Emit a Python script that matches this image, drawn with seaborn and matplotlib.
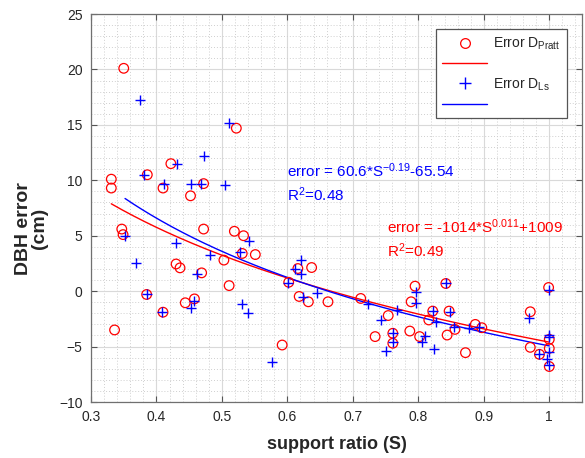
import numpy as np
import matplotlib
matplotlib.use("Agg")
import matplotlib.pyplot as plt
import seaborn as sns
from matplotlib.lines import Line2D
from matplotlib.ticker import MultipleLocator

# support ratio (S) and DBH error (cm)
pratt_s = [0.350, 0.331, 0.331, 0.386, 0.422, 0.522, 0.410, 0.472, 0.452, 0.347,
           0.349, 0.472, 0.519, 0.533, 0.531, 0.551, 0.503, 0.430, 0.436, 0.469,
           0.511, 0.385, 0.444, 0.458, 0.410, 0.336, 0.592, 0.602, 0.616, 0.637,
           0.618, 0.632, 0.662, 0.712, 0.754, 0.734, 0.761, 0.761, 0.795, 0.789,
           0.787, 0.802, 0.822, 0.816, 0.842, 0.847, 0.844, 0.856, 0.872, 0.887,
           0.897, 0.971, 0.971, 0.985, 0.999, 1.000, 1.000, 1.000]
pratt_err = [20.1, 10.1, 9.3, 10.5, 11.5, 14.7, 9.3, 9.7, 8.6, 5.6,
             5.1, 5.6, 5.4, 5.0, 3.4, 3.3, 2.8, 2.45, 2.1, 1.65,
             0.5, -0.3, -1.05, -0.7, -1.9, -3.5, -4.86, 0.8, 2.04, 2.13,
             -0.48, -0.96, -0.96, -0.66, -2.2, -4.1, -3.8, -4.7, 0.45, -0.96,
             -3.6, -4.1, -1.8, -2.6, 0.69, -1.8, -3.96, -3.45, -5.55, -3.0,
             -3.3, -1.86, -5.07, -5.7, 0.33, -4.35, -5.16, -6.8]

ls_s = [0.375, 0.511, 0.381, 0.432, 0.472, 0.412, 0.453, 0.468, 0.505, 0.352,
        0.430, 0.542, 0.528, 0.482, 0.369, 0.462, 0.385, 0.457, 0.452, 0.409,
        0.530, 0.540, 0.577, 0.601, 0.612, 0.621, 0.621, 0.624, 0.645, 0.723,
        0.743, 0.767, 0.761, 0.761, 0.750, 0.796, 0.796, 0.810, 0.805, 0.822,
        0.827, 0.824, 0.842, 0.848, 0.855, 0.877, 0.893, 0.969, 0.985, 0.999,
        1.000, 1.000, 0.999, 0.997, 0.999]
ls_err = [17.2, 15.2, 10.5, 11.5, 12.2, 9.7, 9.7, 9.7, 9.6, 5.0,
          4.35, 4.5, 3.5, 3.3, 2.5, 1.55, -0.3, -0.9, -1.56, -1.9,
          -1.15, -1.95, -6.37, 0.7, 2.04, 2.8, 1.55, -0.55, -0.13, -1.17,
          -2.6, -1.7, -3.8, -4.6, -5.4, -0.06, -1.1, -4.05, -4.6, -1.8,
          -2.8, -5.2, 0.69, -1.9, -3.2, -3.3, -3.2, -2.4, -5.7, 0.1,
          -3.95, -4.15, -5.5, -6.15, -6.7]

# power-law fits printed on the chart: error = a * S^b + c
pratt_fit = (-1014.0, 0.0112, 1009.4)
ls_fit = (60.6, -0.19, -65.54)

red = "#ff0000"
blue = "#0000ff"

sns.set_style("ticks")
plt.rcParams["font.family"] = ["Liberation Sans", "DejaVu Sans"]
plt.rcParams["mathtext.fontset"] = "custom"
plt.rcParams["mathtext.rm"] = "Liberation Sans"
plt.rcParams["mathtext.it"] = "Liberation Sans:italic"

fig = plt.figure(figsize=(5.85, 4.58), dpi=100)
ax = fig.add_axes([91 / 585, 1 - 402 / 458, 491 / 585, 388 / 458])

s_pratt = np.linspace(min(pratt_s), 1.0, 200)
s_ls = np.linspace(0.352, 1.0, 200)
a, b, c = pratt_fit
sns.lineplot(x=s_pratt, y=a * s_pratt ** b + c, color=red, lw=1, ax=ax)
a, b, c = ls_fit
sns.lineplot(x=s_ls, y=a * s_ls ** b + c, color=blue, lw=1, ax=ax)

sns.scatterplot(x=pratt_s, y=pratt_err, marker="o", s=48, facecolors="none",
                edgecolors=red, linewidths=0.9, ax=ax, zorder=3)
sns.scatterplot(x=ls_s, y=ls_err, marker="+", s=60, color=blue,
                linewidths=1.0, ax=ax, zorder=3)

ax.set_xlim(0.3, 1.05)
ax.set_ylim(-10, 25)
ax.xaxis.set_major_locator(MultipleLocator(0.1))
ax.xaxis.set_minor_locator(MultipleLocator(0.02))
ax.yaxis.set_major_locator(MultipleLocator(5))
ax.yaxis.set_minor_locator(MultipleLocator(1))
ax.set_xticklabels([f"{v:g}" for v in ax.get_xticks()])

ax.grid(which="major", color="#d9d9d9", lw=0.8, ls="-")
ax.grid(which="minor", color="#cfcfcf", lw=0.7, ls=(0, (1, 2)))
ax.set_axisbelow(True)
ax.tick_params(which="major", direction="in", length=4, top=True, right=True,
               color="#555555", labelsize=10, labelcolor="#262626", pad=6)
ax.tick_params(which="minor", length=0)
for sp in ax.spines.values():
    sp.set_color("#707070")
    sp.set_linewidth(0.9)

ax.set_xlabel("support ratio (S)", fontsize=13, fontweight="bold")
ax.set_ylabel("DBH error\n(cm)", fontsize=14, fontweight="bold", linespacing=0.9)
ax.xaxis.set_label_coords(0.5, -0.088)
ax.yaxis.set_label_coords(-0.088, 0.448)

ax.text(0.6, 10.3, r"error = 60.6*S$^{-0.19}$-65.54", color=blue, fontsize=11)
ax.text(0.6, 8.1, r"R$^{2}$=0.48", color=blue, fontsize=11)
ax.text(0.752, 5.2, r"error = -1014*S$^{0.011}$+1009", color=red, fontsize=11)
ax.text(0.752, 3.1, r"R$^{2}$=0.49", color=red, fontsize=11)

handles = [
    Line2D([], [], ls="none", marker="o", mfc="none", mec=red, ms=7, mew=0.9),
    Line2D([], [], color=red, lw=1),
    Line2D([], [], ls="none", marker="+", color=blue, ms=8, mew=1),
    Line2D([], [], color=blue, lw=1),
]
labels = [r"Error D$_{\mathrm{Pratt}}$", "", r"Error D$_{\mathrm{Ls}}$", ""]
leg = ax.legend(handles, labels, loc="upper right", bbox_to_anchor=(0.969, 0.961),
                borderaxespad=0, fontsize=10, handlelength=3.2, handletextpad=0.45,
                labelspacing=0.38, fancybox=False, framealpha=1,
                edgecolor="#555555", borderpad=0.45)
leg.get_frame().set_linewidth(0.9)

fig.savefig("out.png", dpi=100)
